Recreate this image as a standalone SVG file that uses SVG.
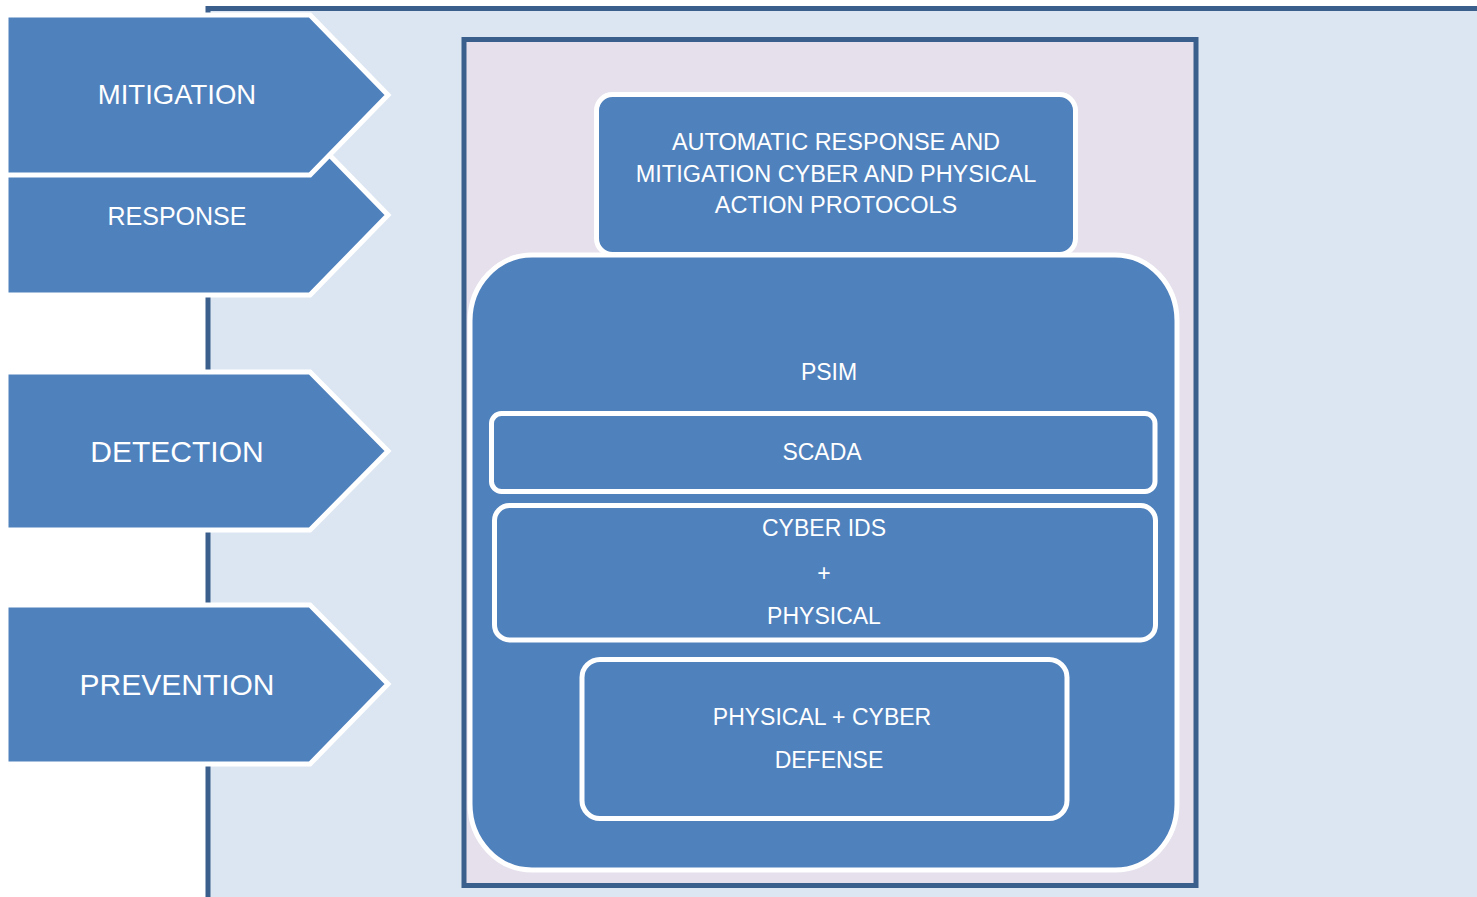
<svg xmlns="http://www.w3.org/2000/svg" width="1477" height="897" viewBox="0 0 1477 897">
  <style>
    .shape { fill: #4f81bd; stroke: #ffffff; stroke-width: 5; stroke-linejoin: miter; }
    .box { fill: #4f81bd; stroke: #ffffff; stroke-width: 5; }
    .lbl { font-family: "Liberation Sans", Arial, sans-serif; fill: #ffffff; text-anchor: middle; }
    .big { font-size: 30px; }
    .sm { font-size: 23px; }
    .xs { font-size: 23.5px; }
  </style>
  <rect x="0" y="0" width="1477" height="897" fill="#ffffff"/>
  <g id="panel">
    <rect x="208" y="8.5" width="1300" height="920" fill="#dce6f2" stroke="#3b5f8c" stroke-width="5"/>
  </g>
  <g id="stack">
    <rect x="464" y="39.5" width="732" height="846" fill="#e5e0ec" stroke="#3b5f8c" stroke-width="5"/>
  </g>
  <g id="response">
    <polygon class="shape" points="6,135 310,135 388,215 310,295 6,295"/>
    <text class="lbl" font-size="25" x="177" y="225">RESPONSE</text>
  </g>
  <g id="mitigation">
    <polygon class="shape" points="6,15 310,15 388,95 310,175 6,175"/>
    <text class="lbl" font-size="27.5" x="177" y="104">MITIGATION</text>
  </g>
  <g id="detection">
    <polygon class="shape" points="6,372 310,372 388,451 310,530 6,530"/>
    <text class="lbl big" x="177" y="462">DETECTION</text>
  </g>
  <g id="prevention">
    <polygon class="shape" points="6,605 310,605 388,684 310,764 6,764"/>
    <text class="lbl big" x="177" y="695">PREVENTION</text>
  </g>
  <g id="protocols">
    <rect class="box" x="596.5" y="94.5" width="479" height="160" rx="16" ry="16"/>
    <text class="lbl xs" x="836" y="150">AUTOMATIC RESPONSE AND</text>
    <text class="lbl xs" x="836" y="181.5">MITIGATION CYBER AND PHYSICAL</text>
    <text class="lbl xs" x="836" y="213">ACTION PROTOCOLS</text>
  </g>
  <g id="psim">
    <rect class="box" x="470" y="255" width="707" height="615" rx="62" ry="66"/>
    <text class="lbl sm" x="829" y="380">PSIM</text>
  </g>
  <g id="scada">
    <rect class="box" x="491.5" y="413.5" width="663.5" height="78" rx="10" ry="10"/>
    <text class="lbl sm" x="822" y="460">SCADA</text>
  </g>
  <g id="ids">
    <rect class="box" x="494.5" y="505.5" width="661" height="134.5" rx="15" ry="15"/>
    <text class="lbl sm" x="824" y="536">CYBER IDS</text>
    <text class="lbl sm" x="824" y="581">+</text>
    <text class="lbl sm" x="824" y="624">PHYSICAL</text>
  </g>
  <g id="defense">
    <rect class="box" x="582" y="659.5" width="485" height="159" rx="18" ry="18"/>
    <text class="lbl sm" x="822" y="725">PHYSICAL + CYBER</text>
    <text class="lbl sm" x="829" y="768">DEFENSE</text>
  </g>
  <g id="connectors"></g>
</svg>
